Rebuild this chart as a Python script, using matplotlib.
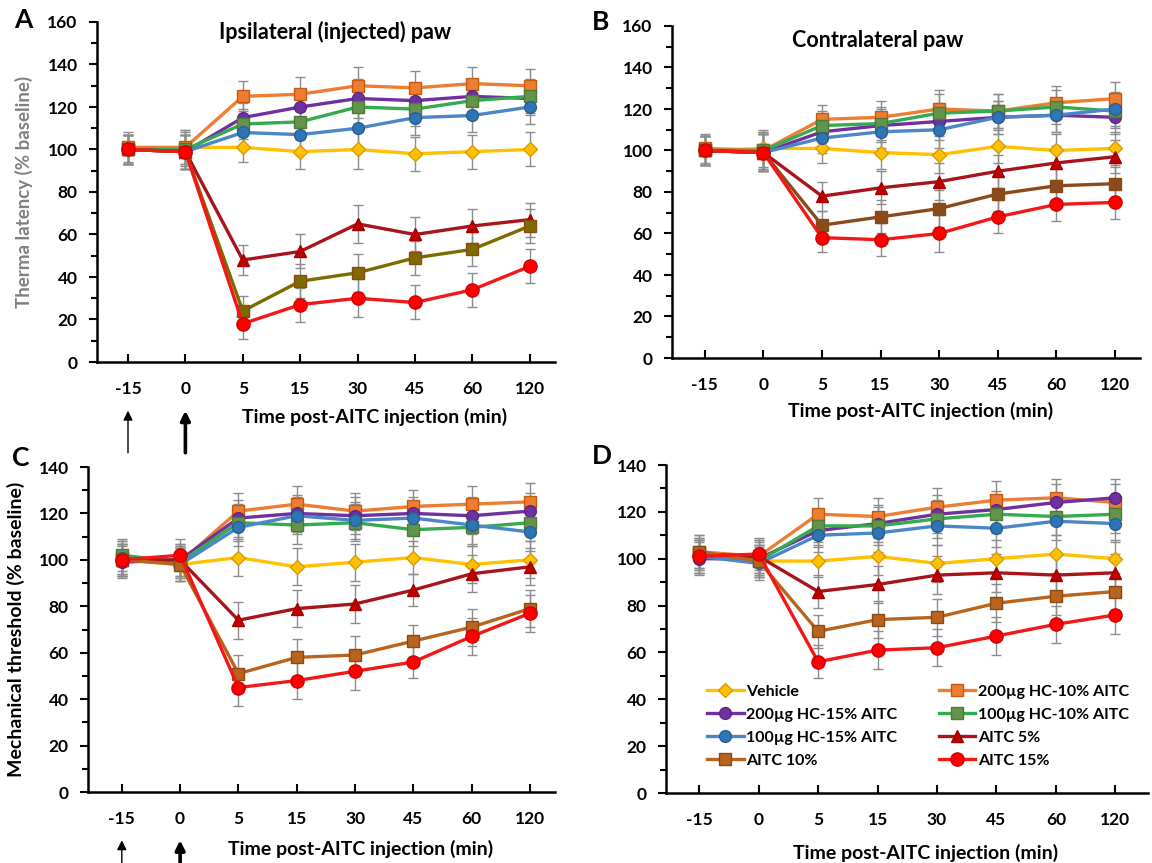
import matplotlib
matplotlib.use("Agg")
import matplotlib.pyplot as plt
from matplotlib.ticker import MultipleLocator

plt.rcParams['font.family'] = ['Lato', 'DejaVu Sans']
plt.rcParams['font.weight'] = 'bold'

# ---------------- data ----------------
time_labels = ["-15", "0", "5", "15", "30", "45", "60", "120"]
series_names = ["Vehicle", "200\u00b5g HC-10% AITC", "200\u00b5g HC-15% AITC",
                "100\u00b5g HC-10% AITC", "100\u00b5g HC-15% AITC",
                "AITC 5%", "AITC 10%", "AITC 15%"]

# Panel A: ipsilateral thermal latency (% baseline)
A_vehicle = [100, 101, 101, 99, 100, 98, 99, 100]
A_hc200_10 = [101, 101, 125, 126, 130, 129, 131, 130]
A_hc200_15 = [100, 99, 115, 120, 124, 123, 125, 124]
A_hc100_10 = [100, 100, 112, 113, 120, 119, 123, 125]
A_hc100_15 = [100, 99, 108, 107, 110, 115, 116, 120]
A_aitc5 = [100, 99, 48, 52, 65, 60, 64, 67]
A_aitc10 = [100, 99, 24, 38, 42, 49, 53, 64]
A_aitc15 = [100, 99, 18, 27, 30, 28, 34, 45]
A_err = [7, 8, 7, 8, 9, 8, 8, 8]

# Panel B: contralateral thermal latency (% baseline)
B_vehicle = [100, 101, 101, 99, 98, 102, 100, 101]
B_hc200_10 = [101, 100, 115, 116, 120, 119, 123, 125]
B_hc200_15 = [100, 99, 109, 112, 114, 116, 117, 116]
B_hc100_10 = [100, 100, 112, 113, 118, 119, 121, 119]
B_hc100_15 = [100, 99, 106, 109, 110, 116, 117, 120]
B_aitc5 = [100, 99, 78, 82, 85, 90, 94, 97]
B_aitc10 = [100, 99, 64, 68, 72, 79, 83, 84]
B_aitc15 = [100, 99, 58, 57, 60, 68, 74, 75]
B_err = [7, 9, 7, 8, 9, 8, 8, 8]

# Panel C: ipsilateral mechanical threshold (% baseline)
C_vehicle = [100, 98, 101, 97, 99, 101, 98, 100]
C_hc200_10 = [101, 99, 121, 124, 121, 123, 124, 125]
C_hc200_15 = [99, 100, 118, 120, 119, 120, 119, 121]
C_hc100_10 = [102, 99, 116, 115, 116, 113, 114, 116]
C_hc100_15 = [101, 98, 114, 119, 117, 118, 115, 112]
C_aitc5 = [100, 100, 74, 79, 81, 87, 94, 97]
C_aitc10 = [100, 98, 51, 58, 59, 65, 71, 79]
C_aitc15 = [100, 102, 45, 48, 52, 56, 67, 77]
C_err = [7, 7, 8, 8, 8, 7, 8, 8]

# Panel D: contralateral mechanical threshold (% baseline)
D_vehicle = [101, 99, 99, 101, 98, 100, 102, 100]
D_hc200_10 = [103, 101, 119, 118, 122, 125, 126, 124]
D_hc200_15 = [100, 100, 112, 115, 119, 121, 124, 126]
D_hc100_10 = [102, 99, 114, 114, 117, 119, 118, 119]
D_hc100_15 = [101, 98, 110, 111, 114, 113, 116, 115]
D_aitc5 = [102, 101, 86, 89, 93, 94, 93, 94]
D_aitc10 = [103, 99, 69, 74, 75, 81, 84, 86]
D_aitc15 = [101, 102, 56, 61, 62, 67, 72, 76]
D_err = [7, 7, 7, 8, 8, 8, 8, 8]

# ---------------- styles ----------------
styles = [
    dict(marker='D', color='#FFC000', mfc='#FFC000', mec='#D99A00', ms=7.5),
    dict(marker='s', color='#ED7D31', mfc='#ED7D31', mec='#C55A11', ms=8),
    dict(marker='o', color='#7030A0', mfc='#7030A0', mec='#5B2585', ms=8.5),
    dict(marker='s', color='#35AA4E', mfc='#62944A', mec='#4E7A3A', ms=8),
    dict(marker='o', color='#4A86C8', mfc='#2E75B6', mec='#2A5E93', ms=8.5),
    dict(marker='^', color='#A8141C', mfc='#C00000', mec='#A00000', ms=9),
    dict(marker='s', color='#B8641E', mfc='#B0601C', mec='#8A4A14', ms=8),
    dict(marker='o', color='#F21818', mfc='#FF0000', mec='#D00000', ms=9.5),
]
aitc10_colors = {'A': '#7F6A00', 'B': '#8B4A1C', 'C': '#B8641E', 'D': '#B8641E'}

fig = plt.figure(figsize=(11.52, 8.63), dpi=100)

panels = {
    'A': dict(rect=[97/1152, 1-362/863, 458/1152, 340/863],
              data=[A_vehicle, A_hc200_10, A_hc200_15, A_hc100_10, A_hc100_15, A_aitc5, A_aitc10, A_aitc15],
              err=A_err, ymax=160, xlim=(-0.54, 7.44)),
    'B': dict(rect=[672/1152, 1-358/863, 468/1152, 332/863],
              data=[B_vehicle, B_hc200_10, B_hc200_15, B_hc100_10, B_hc100_15, B_aitc5, B_aitc10, B_aitc15],
              err=B_err, ymax=160, xlim=(-0.56, 7.43)),
    'C': dict(rect=[88/1152, 1-792/863, 467/1152, 325/863],
              data=[C_vehicle, C_hc200_10, C_hc200_15, C_hc100_10, C_hc100_15, C_aitc5, C_aitc10, C_aitc15],
              err=C_err, ymax=140, xlim=(-0.58, 7.43)),
    'D': dict(rect=[666/1152, 1-793/863, 482/1152, 328/863],
              data=[D_vehicle, D_hc200_10, D_hc200_15, D_hc100_10, D_hc100_15, D_aitc5, D_aitc10, D_aitc15],
              err=D_err, ymax=140, xlim=(-0.56, 7.55)),
}

x = list(range(len(time_labels)))
axes = {}
for key, p in panels.items():
    ax = fig.add_axes(p['rect'])
    axes[key] = ax
    for i, (name, vals) in enumerate(zip(series_names, p['data'])):
        st = dict(styles[i])
        if i == 6:
            st['color'] = aitc10_colors[key]
            st['mfc'] = aitc10_colors[key]
        ax.errorbar(x, vals, yerr=p['err'], fmt='none', ecolor='#8C8C8C',
                    elinewidth=1.0, capsize=3.5, capthick=1.0, zorder=1)
        ax.plot(x, vals, linestyle='-', linewidth=2.4, label=name,
                marker=st['marker'], color=st['color'], markerfacecolor=st['mfc'],
                markeredgecolor=st['mec'], markersize=st['ms'], markeredgewidth=1.0,
                zorder=2 + i)
    ax.set_xlim(*p['xlim'])
    ax.set_ylim(0, p['ymax'])
    ax.set_xticks(x)
    ax.set_xticklabels(time_labels)
    ax.yaxis.set_major_locator(MultipleLocator(20))
    ax.yaxis.set_minor_locator(MultipleLocator(10))
    for s in ['top', 'right']:
        ax.spines[s].set_visible(False)
    for s in ['left', 'bottom']:
        ax.spines[s].set_linewidth(1.8)
        ax.spines[s].set_color('black')
    ax.tick_params(axis='y', which='major', direction='out', length=6, width=1.5,
                   labelsize=12.5, pad=8)
    ax.tick_params(axis='y', which='minor', direction='out', length=4, width=1.5)
    ax.tick_params(axis='x', which='major', direction='in', length=6, width=1.5,
                   labelsize=12.5, pad=14)
    for lab in ax.get_xticklabels() + ax.get_yticklabels():
        lab.set_fontweight('bold')

# y labels
axes['A'].set_ylabel("Therma latency (% baseline)", fontsize=13.5, fontweight='bold',
                     color='#808080', labelpad=10)
axes['C'].set_ylabel("Mechanical threshold (% baseline)", fontsize=14, fontweight='bold',
                     color='black', labelpad=10)

# titles inside axes
axes['A'].text(3.6, 0.97, "Ipsilateral (injected) paw", transform=axes['A'].get_xaxis_transform(),
               ha='center', va='center', fontsize=15.5, fontweight='bold')
axes['B'].text(2.95, 0.955, "Contralateral paw", transform=axes['B'].get_xaxis_transform(),
               ha='center', va='center', fontsize=15.5, fontweight='bold')

# x labels
xlab = "Time post-AITC injection (min)"
for key, (cx, cy) in {'A': (4.3, -0.162), 'B': (3.68, -0.16),
                      'C': (4.1, -0.175), 'D': (3.8, -0.184)}.items():
    axes[key].text(cx, cy, xlab, transform=axes[key].get_xaxis_transform(),
                   ha='center', va='center', fontsize=14, fontweight='bold', clip_on=False)

# injection arrows under -15 and 0
for key, (ytop, ybot) in {'A': (-0.135, -0.275), 'C': (-0.14, -0.23)}.items():
    ax = axes[key]
    tr = ax.get_xaxis_transform()
    ax.annotate('', xy=(0, ytop), xytext=(0, ybot), xycoords=tr, textcoords=tr,
                arrowprops=dict(arrowstyle='-|>', color='black', lw=1.0,
                                mutation_scale=14), annotation_clip=False)
    ax.annotate('', xy=(1, ytop), xytext=(1, ybot), xycoords=tr, textcoords=tr,
                arrowprops=dict(arrowstyle='-|>', color='black', lw=2.6,
                                mutation_scale=14), annotation_clip=False)

# panel letters
for letter, (px, py) in {'A': (14, 20), 'B': (592, 22), 'C': (12, 458), 'D': (592, 456)}.items():
    fig.text(px/1152, 1 - py/863, letter, fontsize=19, fontweight='bold', ha='left', va='center')

# legend in D
h, l = axes['D'].get_legend_handles_labels()
order = [0, 2, 4, 6, 1, 3, 5, 7]
axes['D'].legend([h[i] for i in order], [l[i] for i in order], ncol=2, frameon=False,
                 loc='upper left', bbox_to_anchor=(0.085, 0.33), borderpad=0, borderaxespad=0,
                 handlelength=2.3, handletextpad=0.15, columnspacing=2.6,
                 labelspacing=0.55, prop=dict(weight='bold', size=11.5))

fig.savefig("out.png", dpi=100)
